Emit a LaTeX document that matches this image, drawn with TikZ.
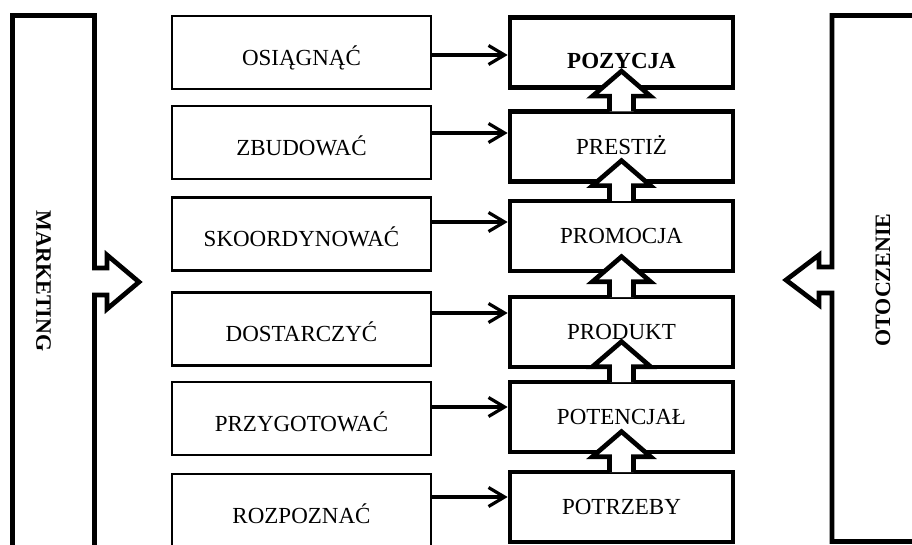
\documentclass[tikz,border=0pt]{standalone}
\usepackage{fontspec}
\setmainfont{Liberation Serif}
\usetikzlibrary{arrows.meta}
\tikzset{
GCadre/.style={
 draw=black,
 line width=2.5pt,
 minimum width=259pt,
 minimum height=73pt,
 inner sep=0pt,
 text height=25.2pt,
 text depth=0pt,
 font=\fontsize{23}{27}\selectfont
 },
DCadre/.style={
 draw=black,
 line width=4.7pt,
 minimum width=223pt,
 minimum height=70pt,
 inner sep=0pt,
 text height=15.2pt,
 text depth=0pt,
 font=\fontsize{23}{27}\selectfont
 },
DFleche/.style={
 draw=black,
 line width=3.2pt,
 -{Straight Barb[length=16pt,width=19pt]}
 },
HFleche/.style={
 draw=black,
 fill=white,
 line width=4.7pt
 },
Bord/.style={
 draw=black,
 line width=4.7pt
 },
Titre/.style={
 font=\fontsize{22}{26}\selectfont\bfseries
 }
}
\begin{document}
\begin{tikzpicture}[x=1pt,y=-1pt]
\clip (0,0) rectangle (912,545);
\fill[white] (0,0) rectangle (912,545);
\draw[Bord] (12.5,560) -- (12.5,15.5) -- (94.5,15.5) -- (94.5,268) -- (107,268) -- (107,255) -- (139,282) -- (107,309) -- (107,295) -- (94.5,295) -- (94.5,560);
\draw[Bord] (960,15.5) -- (832,15.5) -- (832,267) -- (819,267) -- (819,255) -- (786,280) -- (819,305) -- (819,293) -- (832,293) -- (832,541.5) -- (960,541.5);
\node[Titre,rotate=-90] (marketing) at (43.5,281) {MARKETING};
\node[Titre,rotate=90] (otoczenie) at (883,280) {OTOCZENIE};
\node[GCadre] (osiagnac) at (301.5,52.5) {OSIĄGNĄĆ};
\node[GCadre] (zbudowac) at (301.5,142.5) {ZBUDOWAĆ};
\node[GCadre] (skoordynowac) at (301.5,234) {SKOORDYNOWAĆ};
\node[GCadre] (dostarczyc) at (301.5,329) {DOSTARCZYĆ};
\node[GCadre] (przygotowac) at (301.5,418.5) {PRZYGOTOWAĆ};
\node[GCadre] (rozpoznac) at (301.5,510.5) {ROZPOZNAĆ};
\node[DCadre,text height=31.2pt] (pozycja) at (621.5,52.5) {\textbf{POZYCJA}};
\node[DCadre] (prestiz) at (621.5,146.5) {PRESTIŻ};
\node[DCadre] (promocja) at (621.5,236) {PROMOCJA};
\node[DCadre] (produkt) at (621.5,332) {PRODUKT};
\node[DCadre] (potencjal) at (621.5,417) {POTENCJAŁ};
\node[DCadre] (potrzeby) at (621.5,507) {POTRZEBY};
\foreach \b in {prestiz,promocja,produkt,potencjal,potrzeby}
 \draw[HFleche,shift={(\b.north)}] (-12,2.35) -- (-12,-13) -- (-29,-13) -- (0,-38) -- (29,-13) -- (12,-13) -- (12,2.35);
\foreach \a/\b/\y in {osiagnac/pozycja/55,zbudowac/prestiz/133,skoordynowac/promocja/222,dostarczyc/produkt/313,przygotowac/potencjal/407,rozpoznac/potrzeby/497}
 \draw[DFleche] (\a.east |- 0,\y) -- (\b.west |- 0,\y);
\end{tikzpicture}
\end{document}
